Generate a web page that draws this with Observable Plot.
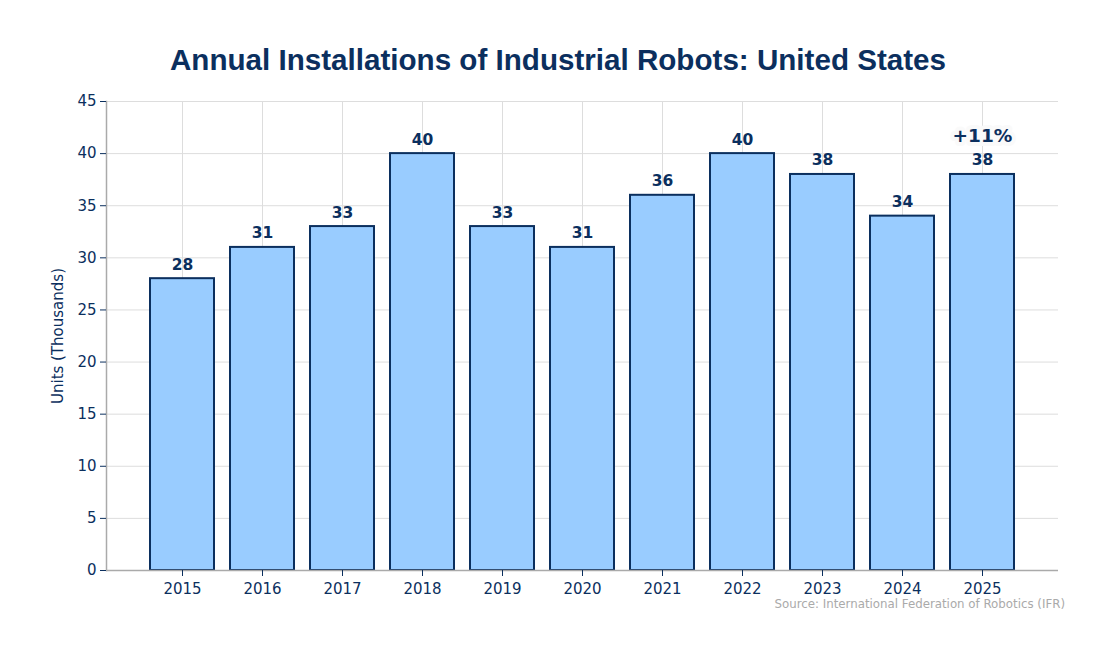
<!DOCTYPE html>
<html>
<head>
<meta charset="utf-8">
<script src="https://cdn.jsdelivr.net/npm/d3@7"></script>
<script src="https://cdn.jsdelivr.net/npm/@observablehq/plot@0.6"></script>
<style>
  html, body { margin: 0; padding: 0; background: #fff; }
  #wrap { position: relative; width: 1116px; height: 650px; }
  #title { position: absolute; left: 0; top: 40px; width: 1116px; text-align: center;
    font-family: "Liberation Sans", Arial, sans-serif; font-weight: bold; font-size: 29.6px; color: #0b2f5e; line-height: 40px; }
  #source { position: absolute; right: 51px; top: 597px; font-family: "DejaVu Sans", sans-serif; font-size: 11.8px; color: #aaaaaa; }
  #chart { position: absolute; left: 0; top: 0; }
</style>
</head>
<body>
<div id="wrap">
  <div id="chart"></div>
  <div id="title">Annual Installations of Industrial Robots: United States</div>
  <div id="source">Source: International Federation of Robotics (IFR)</div>
</div>
<script>
const years = ["2015","2016","2017","2018","2019","2020","2021","2022","2023","2024","2025"];
const units = [28, 31, 33, 40, 33, 31, 36, 40, 38, 34, 38];
const yTicks = [0, 5, 10, 15, 20, 25, 30, 35, 40, 45];
const growthLabel = "+11%";

const data = years.map((y, i) => ({year: y, value: units[i]}));
const last = [data[data.length - 1]];
const navy = "#0b2f5e";

const plot = Plot.plot({
  width: 1116,
  height: 650,
  marginLeft: 106,
  marginRight: 58,
  marginTop: 101,
  marginBottom: 80,
  style: {fontFamily: "DejaVu Sans, sans-serif", fontSize: "15px", color: navy, background: "transparent"},
  x: {domain: years, paddingInner: 0.2, paddingOuter: 0.54, label: null},
  y: {domain: [0, 45], label: null},
  marks: [
    Plot.gridY(yTicks, {stroke: "#dddddd", strokeOpacity: 1}),
    Plot.gridX(years, {stroke: "#dddddd", strokeOpacity: 1}),
    Plot.barY(data, {x: "year", y: "value", fill: "#99ccff", stroke: navy, strokeWidth: 2}),
    Plot.ruleY([0], {stroke: "#aaaaaa", strokeWidth: 1.5}),
    Plot.frame({anchor: "left", stroke: "#aaaaaa", strokeWidth: 1.5}),
    Plot.axisY({ticks: yTicks, tickSize: 6, tickPadding: 4, stroke: navy, fill: navy, fontSize: 15,
      label: "Units (Thousands)", labelAnchor: "center", labelArrow: "none", labelOffset: 54}),
    Plot.axisX({tickSize: 6, tickPadding: 7, stroke: navy, fill: navy, fontSize: 15, label: null}),
    Plot.text(data, {x: "year", y: "value", text: d => String(d.value), lineAnchor: "bottom", dy: -9,
      fill: navy, fontWeight: "bold", fontSize: 15.5}),
    Plot.text(last, {x: "year", y: "value", text: () => growthLabel, lineAnchor: "bottom", dy: -32,
      fill: navy, fontWeight: "bold", fontSize: 18.5, stroke: "#fafafa", strokeWidth: 8, paintOrder: "stroke"})
  ]
});
document.getElementById("chart").appendChild(plot);
</script>
</body>
</html>
